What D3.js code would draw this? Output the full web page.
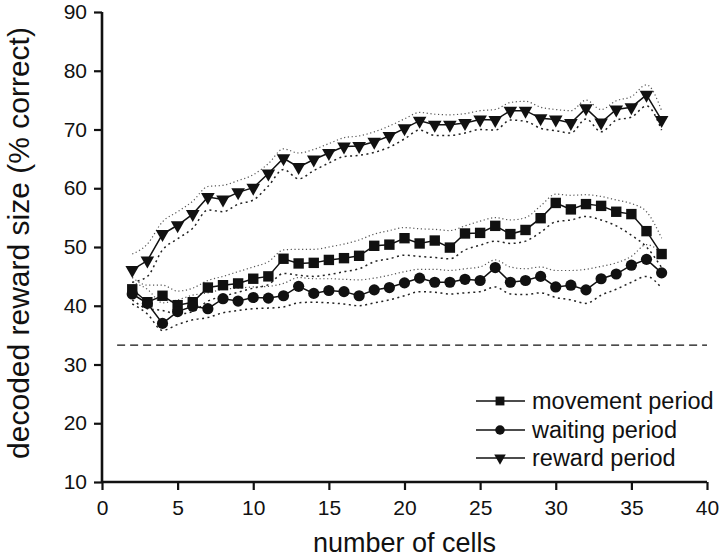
<!DOCTYPE html>
<html>
<head>
<meta charset="utf-8">
<script src="https://cdn.jsdelivr.net/npm/d3@7"></script>
<style>
  html, body { margin: 0; padding: 0; background: #fff; }
  svg { display: block; }
  text { font-family: "Liberation Sans", Arial, Helvetica, sans-serif; fill: #111; }
</style>
</head>
<body>
<svg id="chart" width="720" height="560"></svg>
<script>
// ---- data ----
const cells = [2,3,4,5,6,7,8,9,10,11,12,13,14,15,16,17,18,19,20,21,22,23,24,25,26,27,28,29,30,31,32,33,34,35,36,37];

const movement = [42.8,40.6,41.7,40.1,40.6,43.1,43.5,43.8,44.6,45.0,48.0,47.2,47.3,47.8,48.1,48.5,50.2,50.4,51.5,50.6,51.1,49.9,52.3,52.4,53.6,52.2,52.9,54.9,57.5,56.4,57.3,57.0,56.0,55.6,52.7,48.8];
const movementUpper = [44.8,43.5,43.5,42.5,43.0,44.3,45.0,45.8,46.6,47.5,49.5,49.6,49.6,50.0,50.5,51.2,52.2,52.8,53.3,53.1,53.0,52.8,53.6,54.4,55.0,54.6,55.0,57.0,59.0,58.8,58.9,58.6,58.0,57.4,56.0,51.5];
const movementLower = [41.0,39.5,39.2,38.6,39.0,40.8,41.6,42.3,43.0,43.6,45.5,45.2,45.0,45.3,45.8,46.3,47.5,48.0,48.6,48.4,48.2,48.0,49.5,50.3,51.0,50.6,51.0,52.5,54.3,54.6,55.2,54.6,53.6,52.0,50.0,46.5];

const waiting = [42.0,40.4,37.0,39.0,39.9,39.5,41.2,40.8,41.4,41.3,41.7,43.3,42.1,42.6,42.4,41.7,42.7,43.1,43.9,44.7,44.0,44.0,44.5,44.3,46.5,44.0,44.3,45.0,43.2,43.5,42.7,44.6,45.4,46.9,47.9,45.6];
const waitingUpper = [44.0,42.8,40.5,41.0,41.8,42.2,42.8,43.0,43.2,43.3,43.8,44.8,44.6,44.6,44.5,44.4,44.7,45.2,45.8,46.2,46.2,46.0,46.3,46.6,47.8,46.6,46.3,46.6,46.0,46.0,46.2,46.7,47.3,48.4,50.4,49.0];
const waitingLower = [40.3,38.6,35.8,36.8,37.6,38.0,38.8,39.2,39.5,39.6,39.8,40.5,40.6,40.5,40.3,40.0,40.5,41.0,41.7,42.4,42.3,42.0,42.2,42.4,43.2,42.0,41.9,42.2,41.4,41.0,40.4,41.8,42.8,44.0,45.0,43.0];

const reward = [46.1,47.7,52.2,53.7,55.6,58.5,58.1,59.3,60.1,62.5,65.1,63.6,64.9,66.0,67.1,67.2,67.9,68.9,70.2,71.5,70.8,70.8,71.1,71.7,71.6,73.2,73.2,71.9,71.7,71.1,73.6,71.2,73.4,73.8,75.9,71.6];
const rewardUpper = [48.8,50.5,54.3,56.0,57.8,60.3,60.5,61.3,62.3,64.2,66.7,66.0,66.6,67.6,68.6,68.9,69.6,70.6,71.8,72.9,72.6,72.5,72.7,73.2,73.4,74.6,74.8,73.8,73.4,73.2,75.0,73.4,74.9,75.6,77.6,73.2];
const rewardLower = [44.0,45.0,49.5,51.4,53.2,56.3,56.0,57.3,58.0,60.4,63.2,61.6,63.0,64.3,65.4,65.6,66.1,67.0,68.4,69.9,69.0,69.0,69.4,70.0,69.9,71.6,71.4,70.2,69.8,69.4,71.8,69.6,71.6,72.1,74.0,69.9];

const chanceLevel = 33.3;
const chanceRange = [1, 40];

const xTicks = [0,5,10,15,20,25,30,35,40];
const yTicks = [10,20,30,40,50,60,70,80,90];

const seriesNames = ["movement period", "waiting period", "reward period"];
const seriesMarkers = ["square", "circle", "triangle"];

// ---- chart ----
const svg = d3.select("#chart");
const x = d3.scaleLinear().domain([0, 40]).range([102, 707]);
const y = d3.scaleLinear().domain([10, 90]).range([482, 12]);

const series = [
  { name: seriesNames[0], marker: seriesMarkers[0], mean: movement, up: movementUpper, lo: movementLower },
  { name: seriesNames[1], marker: seriesMarkers[1], mean: waiting, up: waitingUpper, lo: waitingLower },
  { name: seriesNames[2], marker: seriesMarkers[2], mean: reward, up: rewardUpper, lo: rewardLower }
];

function markerPath(type) {
  if (type === "square") return "M-5.2,-5.2H5.2V5.2H-5.2Z";
  if (type === "circle") return d3.symbol().type(d3.symbolCircle).size(Math.PI * 5.6 * 5.6)();
  // downward triangle, centroid at origin
  return "M-6.8,-4L6.8,-4L0,8Z";
}

// chance line
svg.append("line")
  .attr("x1", x(chanceRange[0])).attr("x2", x(chanceRange[1]))
  .attr("y1", y(chanceLevel)).attr("y2", y(chanceLevel))
  .attr("stroke", "#111").attr("stroke-width", 1.2)
  .attr("stroke-dasharray", "8,5");

// bands
const bandLine = arr => d3.line()
  .x((d, i) => x(cells[i])).y(d => y(d))
  .curve(d3.curveMonotoneX)(arr);

series.forEach(s => {
  svg.append("path").attr("d", bandLine(s.up))
    .attr("fill", "none").attr("stroke", "#555").attr("stroke-width", 1.2)
    .attr("stroke-dasharray", "1.2,2.6");
  svg.append("path").attr("d", bandLine(s.lo))
    .attr("fill", "none").attr("stroke", "#222").attr("stroke-width", 1.5)
    .attr("stroke-dasharray", "2,3.5");
});

// mean lines + markers
series.forEach(s => {
  svg.append("path")
    .attr("d", d3.line().x((d, i) => x(cells[i])).y(d => y(d))(s.mean))
    .attr("fill", "none").attr("stroke", "#111").attr("stroke-width", 1.5);
  svg.append("g").selectAll("path").data(s.mean).join("path")
    .attr("d", markerPath(s.marker))
    .attr("transform", (d, i) => `translate(${x(cells[i])},${y(d)})`)
    .attr("fill", "#111");
});

// axes
const xAxis = svg.append("g").attr("transform", "translate(0,482)")
  .call(d3.axisBottom(x).tickValues(xTicks).tickSize(8).tickPadding(10).tickFormat(d3.format("d")));
const yAxis = svg.append("g").attr("transform", "translate(102,0)")
  .call(d3.axisLeft(y).tickValues(yTicks).tickSize(8).tickPadding(7).tickFormat(d3.format("d")));
[xAxis, yAxis].forEach(g => {
  g.selectAll(".tick line").attr("stroke", "#111").attr("stroke-width", 2.2);
  g.selectAll(".tick text").attr("font-size", 21).attr("fill", "#111")
    .attr("font-family", "'Liberation Sans', Arial, sans-serif");
});
xAxis.select(".domain").attr("stroke", "#111").attr("stroke-width", 2.6).attr("d", "M" + x(0) + ",0H" + x(40));
yAxis.select(".domain").attr("stroke", "#111").attr("stroke-width", 2.6).attr("d", "M0," + y(90) + "V" + y(10));

// axis titles
svg.append("text").attr("x", x(20)).attr("y", 552).attr("text-anchor", "middle")
  .attr("font-size", 27).text("number of cells");
svg.append("text").attr("transform", `translate(29,${y(50) - 4}) rotate(-90)`)
  .attr("text-anchor", "middle").attr("font-size", 30)
  .text("decoded reward size (% correct)");

// legend
const legendRows = [401, 430, 458];
series.forEach((s, i) => {
  const g = svg.append("g").attr("transform", `translate(0,${legendRows[i]})`);
  g.append("line").attr("x1", 476).attr("x2", 525).attr("y1", 0).attr("y2", 0)
    .attr("stroke", "#111").attr("stroke-width", 1.4);
  g.append("path").attr("d", markerPath(s.marker)).attr("transform", "translate(500,0) scale(0.85)").attr("fill", "#111");
  g.append("text").attr("x", 532).attr("y", 8).attr("font-size", 23.5).text(s.name);
});
</script>
</body>
</html>
